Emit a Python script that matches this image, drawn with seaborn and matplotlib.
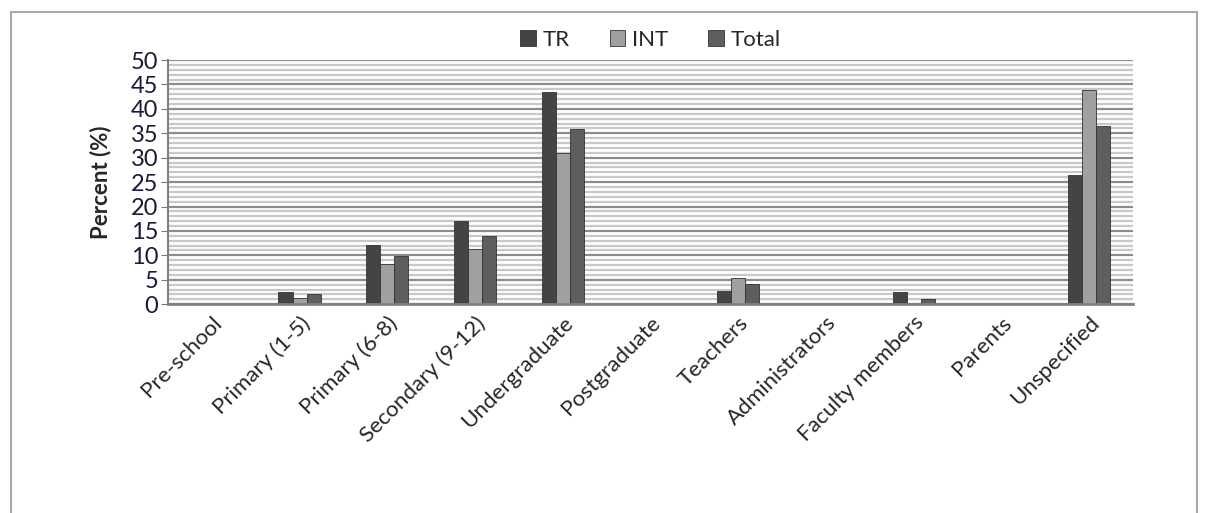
#!/usr/bin/env python3
"""
Grouped bar chart: percent of studies by participant group (TR / INT / Total)
"""

import pandas as pd
import numpy as np
import matplotlib
matplotlib.use("Agg")
import matplotlib.pyplot as plt
from matplotlib.patches import Rectangle
from matplotlib.ticker import MultipleLocator
import seaborn as sns

categories = ["Pre-school", "Primary (1-5)", "Primary (6-8)", "Secondary (9-12)",
              "Undergraduate", "Postgraduate", "Teachers", "Administrators",
              "Faculty members", "Parents", "Unspecified"]
tr_values = [0, 2.5, 12.1, 17.0, 43.4, 0, 2.7, 0, 2.5, 0, 26.4]
int_values = [0, 1.2, 8.3, 11.4, 30.9, 0, 5.4, 0, 0, 0, 43.9]
total_values = [0, 2.0, 9.8, 13.9, 35.9, 0, 4.1, 0, 1.1, 0, 36.5]
series_names = ["TR", "INT", "Total"]
colors = ["#444444", "#a0a0a0", "#5e5e5e"]


def build_frame():
    rows = []
    for name, vals in zip(series_names, [tr_values, int_values, total_values]):
        for cat, v in zip(categories, vals):
            rows.append({"Category": cat, "Series": name, "Percent": v})
    return pd.DataFrame(rows)


def main():
    df = build_frame()
    sns.set_style("white")
    plt.rcParams["font.family"] = ["Lato", "DejaVu Sans"]

    fig = plt.figure(figsize=(12.08, 5.13), dpi=100)
    ax = fig.add_axes([0.139, 0.407, 0.799, 0.476])

    # striped background (minor grid) and major grid
    ax.yaxis.set_major_locator(MultipleLocator(5))
    ax.yaxis.set_minor_locator(MultipleLocator(1))
    ax.grid(which="minor", axis="y", color="#c8c8c8", linewidth=1.6)
    ax.grid(which="major", axis="y", color="#8c8c8c", linewidth=1.6)
    ax.set_axisbelow(True)

    sns.barplot(data=df, x="Category", y="Percent", hue="Series",
                palette=colors, width=0.48, ax=ax, edgecolor="#333333",
                linewidth=0.6, legend=True)

    ax.set_ylim(0, 50)
    ax.set_xlim(-0.5, len(categories) - 0.5)
    ax.set_xlabel("")
    ax.set_ylabel("Percent (%)", fontsize=16, fontweight="bold", labelpad=14)

    ax.tick_params(axis="y", which="major", length=5, color="#777777",
                   labelsize=17, labelcolor="#1a1a3a", pad=2, left=True)
    ax.tick_params(axis="y", which="minor", length=0)
    ax.tick_params(axis="x", length=0, labelsize=16, pad=6)
    plt.setp(ax.get_xticklabels(), rotation=45, ha="right",
             rotation_mode="anchor")

    for side in ["top", "right"]:
        ax.spines[side].set_visible(False)
    ax.spines["left"].set_color("#808080")
    ax.spines["left"].set_linewidth(1.5)
    ax.spines["bottom"].set_color("#808080")
    ax.spines["bottom"].set_linewidth(2)

    ax.legend(loc="lower center", bbox_to_anchor=(0.5, 1.0), ncol=3,
              frameon=False, fontsize=16, handlelength=0.7, handleheight=0.7,
              columnspacing=1.8, handletextpad=0.3, borderaxespad=0.05)

    # outer chart frame
    fig.patches.append(Rectangle((0.009, -0.05), 0.982, 1.027,
                                 transform=fig.transFigure, fill=False,
                                 edgecolor="#a8a8a8", linewidth=1.5))

    fig.savefig("out.png", dpi=100)
    plt.close(fig)


if __name__ == "__main__":
    main()
